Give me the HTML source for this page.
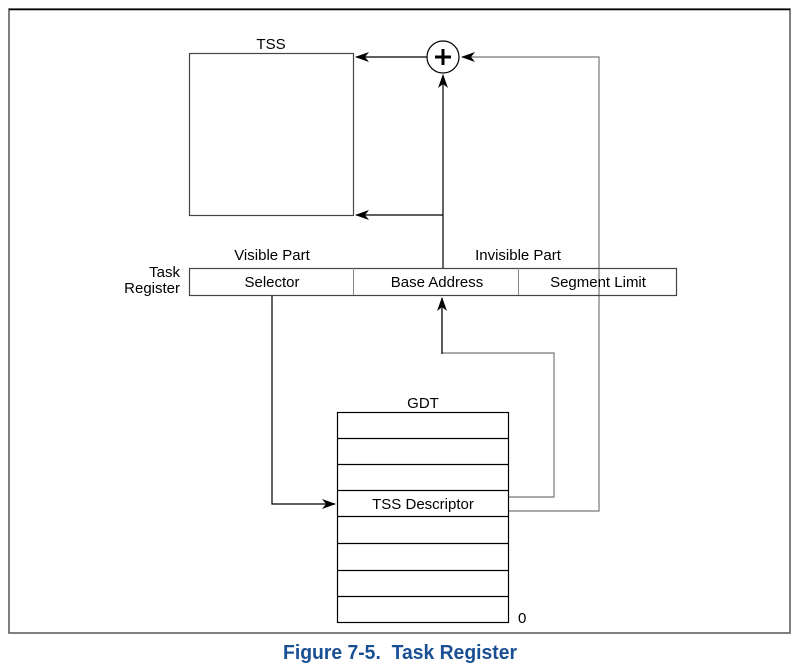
<!DOCTYPE html>
<html><head><meta charset="utf-8"><style>
html,body{margin:0;padding:0;background:#fff;}
svg{display:block;}
text{font-family:"Liberation Sans",sans-serif;font-size:15px;fill:#000;}
</style></head><body>
<svg width="802" height="669" viewBox="0 0 802 669" xmlns="http://www.w3.org/2000/svg">
<defs>
<marker id="a" markerWidth="14" markerHeight="10" refX="13" refY="5" orient="auto" markerUnits="userSpaceOnUse">
<path d="M0,0 L14,5 L0,10 L4,5 Z" fill="#000"/></marker>
</defs>
<rect x="9" y="9" width="781" height="624" fill="none" stroke="#555" stroke-width="1.5"/>
<line x1="9" y1="9.5" x2="790" y2="9.5" stroke="#000" stroke-width="1.5"/>
<rect x="189.5" y="53.5" width="164" height="162" fill="none" stroke="#444" stroke-width="1.2"/>
<text x="271" y="49" text-anchor="middle">TSS</text>
<circle cx="443" cy="57" r="16" fill="#fff" stroke="#000" stroke-width="1.2"/>
<path d="M435,57 H451 M443,49 V65" stroke="#000" stroke-width="3"/>
<line x1="427" y1="57" x2="356" y2="57" stroke="#000" stroke-width="1.2" marker-end="url(#a)"/>
<line x1="443" y1="268" x2="443" y2="75" stroke="#000" stroke-width="1.2" marker-end="url(#a)"/>
<line x1="443" y1="215" x2="356" y2="215" stroke="#000" stroke-width="1.2" marker-end="url(#a)"/>
<polyline points="509,511 599,511 599,57 462,57" fill="none" stroke="#777" stroke-width="1.2" marker-end="url(#a)"/>
<polyline points="509,497 554,497 554,353 442,353 442,298" fill="none" stroke="#777" stroke-width="1.2"/>
<line x1="442" y1="354" x2="442" y2="298" stroke="#000" stroke-width="1.2" marker-end="url(#a)"/>
<text x="272" y="260" text-anchor="middle">Visible Part</text>
<text x="518" y="260" text-anchor="middle">Invisible Part</text>
<text x="180" y="277" text-anchor="end">Task</text>
<text x="180" y="293" text-anchor="end">Register</text>
<rect x="189.5" y="268.5" width="487" height="27" fill="none" stroke="#444" stroke-width="1.2"/>
<line x1="353.5" y1="268" x2="353.5" y2="295" stroke="#888"/>
<line x1="518.5" y1="268" x2="518.5" y2="295" stroke="#888"/>
<text x="272" y="287" text-anchor="middle">Selector</text>
<text x="437" y="287" text-anchor="middle">Base Address</text>
<text x="598" y="287" text-anchor="middle">Segment Limit</text>
<polyline points="272,296 272,504 335,504" fill="none" stroke="#000" stroke-width="1.2" marker-end="url(#a)"/>
<text x="423" y="408" text-anchor="middle">GDT</text>
<rect x="337.5" y="412.5" width="171" height="210" fill="none" stroke="#000" stroke-width="1.2"/>
<g stroke="#000" stroke-width="1.2">
<line x1="337" y1="438.5" x2="509" y2="438.5"/>
<line x1="337" y1="464.5" x2="509" y2="464.5"/>
<line x1="337" y1="490.5" x2="509" y2="490.5"/>
<line x1="337" y1="516.5" x2="509" y2="516.5"/>
<line x1="337" y1="543.5" x2="509" y2="543.5"/>
<line x1="337" y1="570.5" x2="509" y2="570.5"/>
<line x1="337" y1="596.5" x2="509" y2="596.5"/>
</g>
<text x="423" y="509" text-anchor="middle">TSS Descriptor</text>
<text x="518" y="623">0</text>
<text x="400" y="659" text-anchor="middle" textLength="234" lengthAdjust="spacingAndGlyphs" style="font-size:20px;font-weight:bold;fill:#1a4f94">Figure 7-5.&#160; Task Register</text>
</svg>
</body></html>
